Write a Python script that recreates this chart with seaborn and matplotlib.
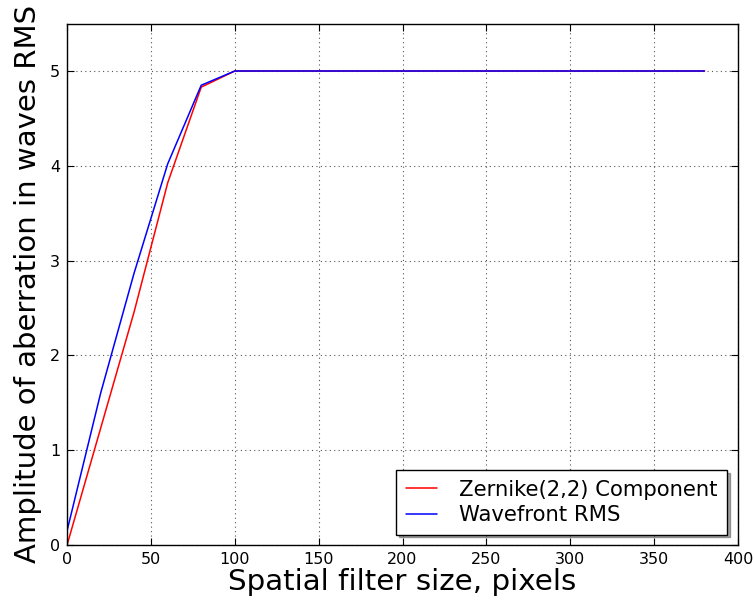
import numpy as np
import pandas as pd
import matplotlib
matplotlib.use("Agg")
import matplotlib.pyplot as plt
import seaborn as sns

# Spatial filter size (pixels) and measured aberration amplitude (waves RMS)
filter_size = [0, 20, 40, 60, 80, 100, 120, 140, 160, 180, 200, 220, 240,
               260, 280, 300, 320, 340, 360, 380]
zernike_22 = [0.0, 1.23, 2.46, 3.82, 4.83, 5.0, 5.0, 5.0, 5.0, 5.0, 5.0, 5.0,
              5.0, 5.0, 5.0, 5.0, 5.0, 5.0, 5.0, 5.0]
wavefront_rms = [0.15, 1.6, 2.87, 4.02, 4.85, 5.0, 5.0, 5.0, 5.0, 5.0, 5.0, 5.0,
                 5.0, 5.0, 5.0, 5.0, 5.0, 5.0, 5.0, 5.0]
series_names = ["Zernike(2,2) Component", "Wavefront RMS"]

sns.set_style("ticks", {
    "xtick.direction": "in", "ytick.direction": "in",
    "axes.edgecolor": "black", "xtick.color": "black", "ytick.color": "black",
    "text.color": "black", "axes.labelcolor": "black",
})
plt.rcParams["font.family"] = ["DejaVu Sans"]

df = pd.DataFrame({
    "size": filter_size * 2,
    "amp": zernike_22 + wavefront_rms,
    "series": [series_names[0]] * len(filter_size) + [series_names[1]] * len(filter_size),
})

fig = plt.figure(figsize=(7.54, 6.05), dpi=100)
ax = fig.add_axes([0.0889, 0.099, 0.8899, 0.862])

sns.lineplot(data=df, x="size", y="amp", hue="series",
             palette={series_names[0]: "red", series_names[1]: "blue"},
             linewidth=1.1, ax=ax, legend=True)

ax.set_xlim(0, 400)
ax.set_ylim(0, 5.5)
ax.set_xticks(np.arange(0, 401, 50))
ax.set_yticks(np.arange(0, 6, 1))
ax.grid(True, linestyle=(0, (1, 3)), color="#555555", linewidth=0.8)
ax.tick_params(axis="both", which="both", direction="in", top=True, right=True,
               length=5, width=0.8, labelsize=11.5, pad=5, labelcolor="black")
for s in ax.spines.values():
    s.set_linewidth(1.0)
    s.set_color("black")

ax.set_xlabel("Spatial filter size, pixels", fontsize=21.2, labelpad=1, color="black")
ax.set_ylabel("Amplitude of aberration in waves RMS", fontsize=21, labelpad=6, color="black")

leg = ax.legend(loc="lower right", fontsize=15.2, frameon=True, fancybox=False,
                shadow=True, framealpha=1, edgecolor="black",
                borderaxespad=0.5, handlelength=1.5, handletextpad=1.05,
                borderpad=0.45, labelspacing=0.25)
leg.get_frame().set_linewidth(1.0)
for t in leg.get_texts():
    t.set_color("black")

fig.savefig("out.png", dpi=100)
